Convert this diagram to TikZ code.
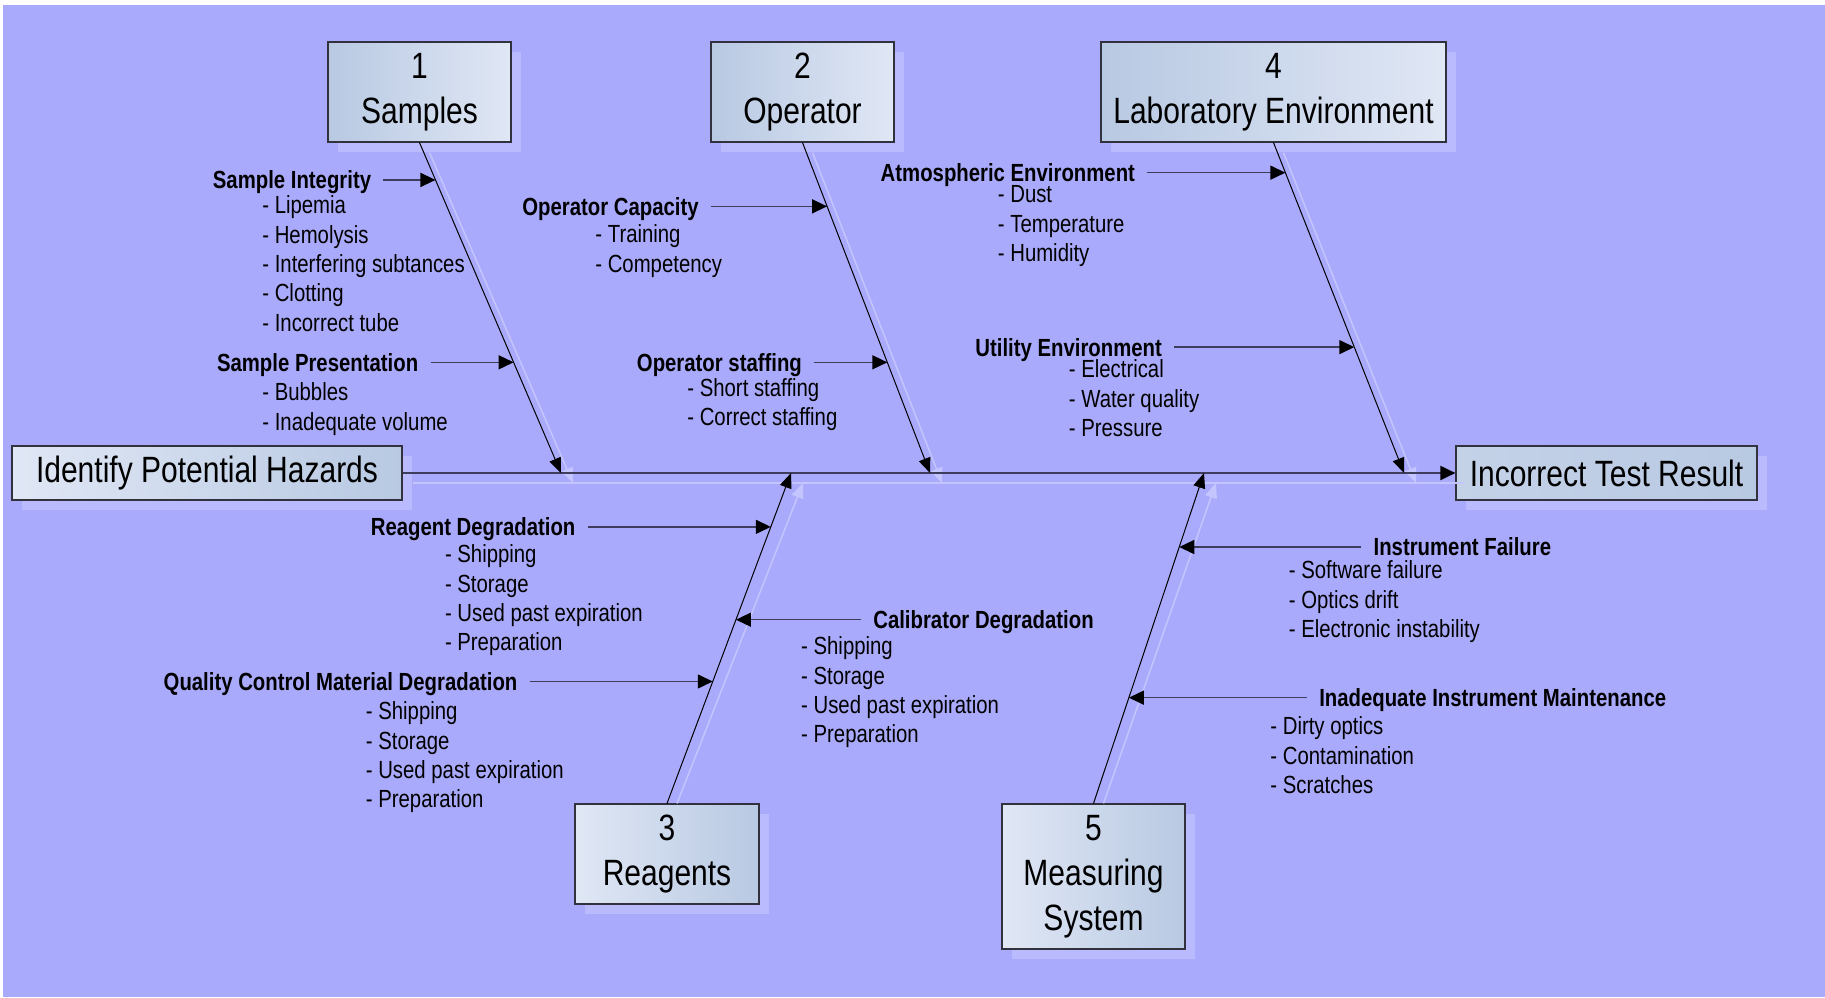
\documentclass[tikz,border=0pt]{standalone}
\usepackage{fontspec}
\setmainfont[FakeStretch=0.82]{Liberation Sans}
\usetikzlibrary{positioning,calc,shadows,arrows.meta}

\definecolor{bgcol}{RGB}{170,170,252}
\definecolor{shadowcol}{RGB}{186,186,255}
\definecolor{shlinecol}{RGB}{196,196,255}
\definecolor{boxdark}{RGB}{184,201,226}
\definecolor{boxmid}{RGB}{196,210,232}
\definecolor{boxlight}{RGB}{224,231,245}
\definecolor{boxline}{RGB}{50,50,62}
\definecolor{linecol}{RGB}{62,62,92}

\begin{document}
\begin{tikzpicture}[x=0.5pt,y=-0.5pt]
   \tikzstyle{every node}=[font=\fontsize{12.4}{14.6}\selectfont]
   \tikzstyle{cat}=[draw=boxline,line width=0.6pt,left color=boxdark,right color=boxlight,
      minimum width=91.5pt,minimum height=50pt,inner sep=0pt,font=\fontsize{18.3}{22.5}\selectfont,
      drop shadow={shadow xshift=5pt,shadow yshift=-5pt,fill=shadowcol,opacity=1}]
   \tikzstyle{head}=[font=\fontsize{12.4}{14.6}\selectfont\bfseries,inner xsep=6pt,inner ysep=0pt,text height=8.9pt,text depth=0pt]
   \tikzstyle{item}=[anchor=west,inner sep=0pt,text height=8.9pt,text depth=0pt]
   \tikzstyle{arr}=[line width=0.75pt,draw=linecol,-{Triangle[length=7.5pt,width=7pt,black]}]
   \tikzstyle{bone}=[line width=0.5pt,-{Triangle[length=7.5pt,width=6pt,black]}]
   \tikzstyle{spine}=[line width=1pt,draw=linecol,-{Triangle[length=7.5pt,width=7pt,black]}]
   \tikzstyle{shline}=[line width=0.75pt,draw=shlinecol,-{Triangle[length=7.5pt,width=6pt]}]

   \useasboundingbox (0,0) rectangle (1825,997) ;
   \fill [bgcol] (3,5) rectangle (1825,997) ;

   % the five causes, the start and the effect
   \node (samples) [cat] at (419.5,92) {\parbox{85pt}{\centering 1\\Samples}} ;
   \node (operator) [cat] at (802.5,92) {\parbox{85pt}{\centering 2\\Operator}} ;
   \node (labenv) [cat,minimum width=172.5pt] at (1273.5,92) {\parbox{170pt}{\centering 4\\Laboratory Environment}} ;
   \node (reagents) [cat,left color=boxlight,right color=boxdark,minimum width=92pt] at (667,854) {\parbox{85pt}{\centering 3\\Reagents}} ;
   \node (measuring) [cat,left color=boxlight,right color=boxdark,minimum height=72.5pt] at (1093.5,876.5) {\parbox{85pt}{\centering 5\\Measuring\\System}} ;
   \node (hazards) [cat,left color=boxlight,right color=boxdark,minimum width=195pt,minimum height=27pt] at (207,473) {Identify Potential Hazards} ;
   \node (result) [cat,left color=boxmid,right color=boxdark,minimum width=150.5pt,minimum height=27pt] at (1606.5,473) {Incorrect Test Result} ;

   % bone tips on the spine
   \coordinate (t1) at (561,473) ;
   \coordinate (t2) at (930,473) ;
   \coordinate (t4) at (1404,473) ;
   \coordinate (t3) at (791,473) ;
   \coordinate (t5) at (1204,473) ;

   % light shadow lines
   \draw [shline,-] ($(hazards.east)+(10,10)$) -- ($(result.west)+(10,10)$) ;
   \draw [shline] ($(samples.south)+(10,10)$) -- ($(t1)+(12,10)$) ;
   \draw [shline] ($(operator.south)+(10,10)$) -- ($(t2)+(12,10)$) ;
   \draw [shline] ($(labenv.south)+(10,10)$) -- ($(t4)+(12,10)$) ;
   \draw [shline] ($(reagents.north)+(10,0)$) -- ($(t3)+(12,10)$) ;
   \draw [shline] ($(measuring.north)+(10,0)$) -- ($(t5)+(12,10)$) ;

   \draw [spine] (hazards) -- (result) ;
   \draw [bone] (samples.south) -- (t1) ;
   \draw [bone] (operator.south) -- (t2) ;
   \draw [bone] (labenv.south) -- (t4) ;
   \draw [bone] (reagents.north) -- (t3) ;
   \draw [bone] (measuring.north) -- (t5) ;

   % 1 Samples
   \coordinate (p1a) at ($(samples.south)!0.113!(t1)$) ;
   \coordinate (p1b) at ($(samples.south)!0.665!(t1)$) ;
   \node (sint) [head,left=26pt of p1a] {Sample Integrity} ;
   \node (spres) [head,left=41.5pt of p1b] {Sample Presentation} ;
   \draw [arr] (sint) -- (p1a) ;
   \draw [arr] (spres) -- (p1b) ;
   \foreach \t [count=\i from 0] in {Lipemia,Hemolysis,Interfering subtances,Clotting,Incorrect tube}
      \node (sint-\i) [item] at (262,205+29.3*\i) {- \t} ;
   \foreach \t [count=\i from 0] in {Bubbles,Inadequate volume}
      \node (spres-\i) [item] at (262,392+29.3*\i) {- \t} ;

   % 2 Operator
   \coordinate (p2a) at ($(operator.south)!0.193!(t2)$) ;
   \coordinate (p2b) at ($(operator.south)!0.665!(t2)$) ;
   \node (ocap) [head,left=58pt of p2a] {Operator Capacity} ;
   \node (ostaff) [head,left=36.5pt of p2b] {Operator staffing} ;
   \draw [arr] (ocap) -- (p2a) ;
   \draw [arr] (ostaff) -- (p2b) ;
   \foreach \t [count=\i from 0] in {Training,Competency}
      \node (ocap-\i) [item] at (595,234+29.3*\i) {- \t} ;
   \foreach \t [count=\i from 0] in {Short staffing,Correct staffing}
      \node (ostaff-\i) [item] at (687,387.6+29.3*\i) {- \t} ;

   % 4 Laboratory Environment
   \coordinate (p4a) at ($(labenv.south)!0.091!(t4)$) ;
   \coordinate (p4b) at ($(labenv.south)!0.619!(t4)$) ;
   \node (atmo) [head,left=69pt of p4a] {Atmospheric Environment} ;
   \node (util) [head,left=90pt of p4b] {Utility Environment} ;
   \draw [arr] (atmo) -- (p4a) ;
   \draw [arr] (util) -- (p4b) ;
   \foreach \t [count=\i from 0] in {Dust,Temperature,Humidity}
      \node (atmo-\i) [item] at (997.5,194+29.3*\i) {- \t} ;
   \foreach \t [count=\i from 0] in {Electrical,Water quality,Pressure}
      \node (util-\i) [item] at (1068.5,369+29.3*\i) {- \t} ;

   % 3 Reagents
   \coordinate (p3a) at ($(reagents.north)!0.837!(t3)$) ;
   \coordinate (p3b) at ($(reagents.north)!0.556!(t3)$) ;
   \coordinate (p3c) at ($(reagents.north)!0.369!(t3)$) ;
   \node (rdeg) [head,left=91.5pt of p3a] {Reagent Degradation} ;
   \node (cal) [head,right=62.5pt of p3b] {Calibrator Degradation} ;
   \node (qc) [head,left=91.5pt of p3c] {Quality Control Material Degradation} ;
   \draw [arr] (rdeg) -- (p3a) ;
   \draw [arr] (cal) -- (p3b) ;
   \draw [arr] (qc) -- (p3c) ;
   \foreach \t [count=\i from 0] in {Shipping,Storage,Used past expiration,Preparation}
      \node (rdeg-\i) [item] at (444.6,554+29.3*\i) {- \t} ;
   \foreach \t [count=\i from 0] in {Shipping,Storage,Used past expiration,Preparation}
      \node (cal-\i) [item] at (800.8,646+29.3*\i) {- \t} ;
   \foreach \t [count=\i from 0] in {Shipping,Storage,Used past expiration,Preparation}
      \node (qc-\i) [item] at (365.5,711+29.3*\i) {- \t} ;

   % 5 Measuring System
   \coordinate (p5a) at ($(measuring.north)!0.776!(t5)$) ;
   \coordinate (p5b) at ($(measuring.north)!0.32!(t5)$) ;
   \node (ifail) [head,right=91pt of p5a] {Instrument Failure} ;
   \node (imaint) [head,right=89pt of p5b] {Inadequate Instrument Maintenance} ;
   \draw [arr] (ifail) -- (p5a) ;
   \draw [arr] (imaint) -- (p5b) ;
   \foreach \t [count=\i from 0] in {Software failure,Optics drift,Electronic instability}
      \node (ifail-\i) [item] at (1288.5,570+29.3*\i) {- \t} ;
   \foreach \t [count=\i from 0] in {Dirty optics,Contamination,Scratches}
      \node (imaint-\i) [item] at (1270,726+29.3*\i) {- \t} ;

\end{tikzpicture}
\end{document}
